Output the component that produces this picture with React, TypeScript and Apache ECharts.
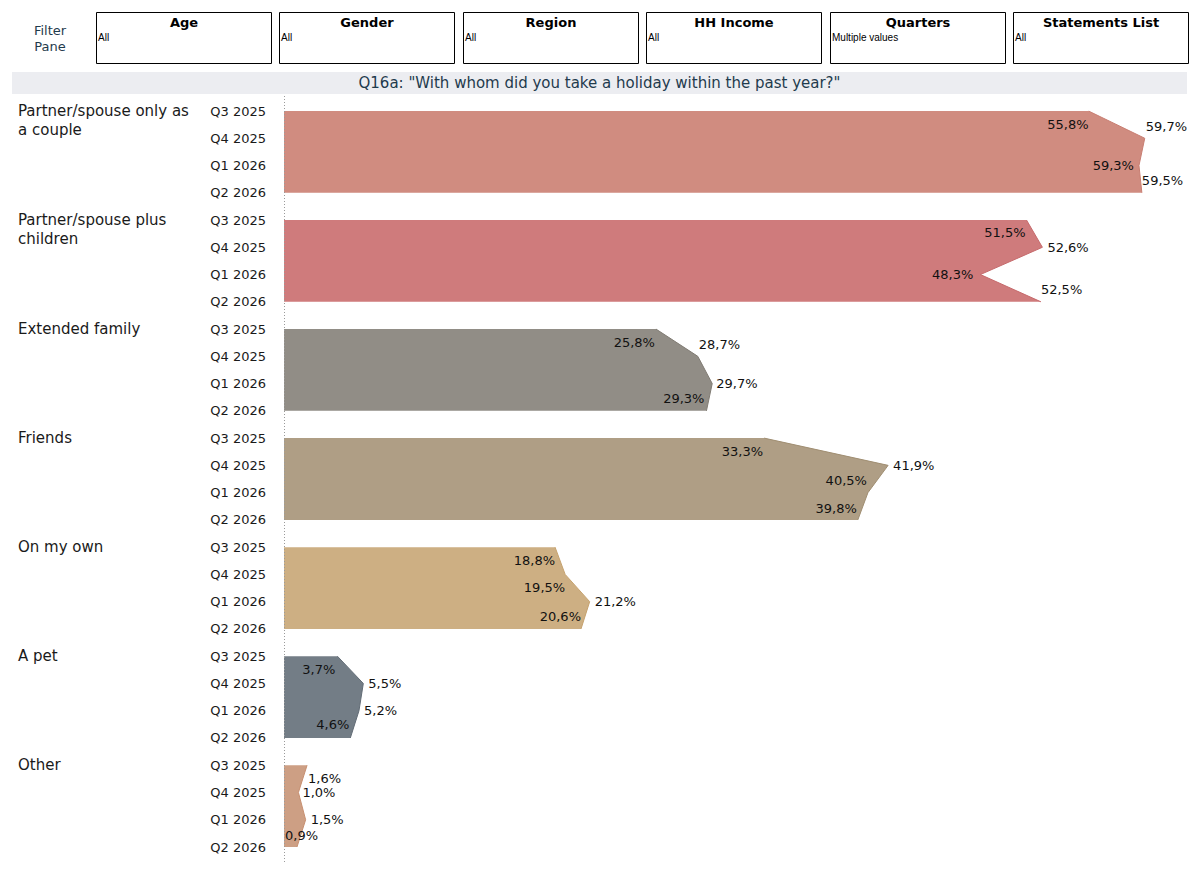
import React, { useEffect, useRef } from 'react';
import * as echarts from 'echarts';

const quarters = ['Q3 2025', 'Q4 2025', 'Q1 2026', 'Q2 2026'];
const groups = [
  'Partner/spouse only as a couple',
  'Partner/spouse plus children',
  'Extended family',
  'Friends',
  'On my own',
  'A pet',
  'Other',
];
const groupLabels = [
  'Partner/spouse only as\na couple',
  'Partner/spouse plus\nchildren',
  'Extended family',
  'Friends',
  'On my own',
  'A pet',
  'Other',
];
const partnerOnly = [55.8, 59.7, 59.3, 59.5];
const partnerChildren = [51.5, 52.6, 48.3, 52.5];
const extendedFamily = [25.8, 28.7, 29.7, 29.3];
const friends = [33.3, 41.9, 40.5, 39.8];
const onMyOwn = [18.8, 19.5, 21.2, 20.6];
const aPet = [3.7, 5.5, 5.2, 4.6];
const other = [1.6, 1.0, 1.5, 0.9];

const filterTitles = ['Age', 'Gender', 'Region', 'HH Income', 'Quarters', 'Statements List'];
const filterValues = ['All', 'All', 'All', 'All', 'Multiple values', 'All'];

const fills = ['#D08C80', '#CF7B7C', '#918D86', '#AF9E85', '#CDAF83', '#737D86', '#CD9F84'];
const strokes = ['#C87E72', '#C66A6C', '#817C74', '#A08E72', '#C6A26E', '#626C76', '#C78F70'];

// label placement per point: [side, gap, dy]
const labelLayout: [string, number, number][][] = [
  [['L', 0, 13], ['R', 1, -12], ['L', 5, 0], ['R', 0, -12]],
  [['L', 1, 12], ['R', 5, 0], ['L', 7, 0], ['R', 0, -12]],
  [['L', 1, 13], ['R', 1, -12], ['R', 4, 0], ['L', 2, -12]],
  [['L', 1, 13], ['R', 5, 0], ['L', 1, -12], ['L', 1, -11]],
  [['L', 0, 13], ['L', 0, 13], ['R', 5, 0], ['L', 0, -12]],
  [['L', 2, 13], ['R', 5, 0], ['R', 5, 0], ['L', 1, -13]],
  [['R', 1, 13], ['R', 4, 0], ['R', 5, 0], ['R', -12, -12]],
];

const FONT = 'DejaVu Sans';
const TEAL = '#1F3B4D';

export default function App() {
  const ref = useRef<HTMLDivElement>(null);
  useEffect(() => {
    if (!ref.current) return;
    const chart = echarts.init(ref.current, undefined, { renderer: 'svg' });
    const seriesValues = [partnerOnly, partnerChildren, extendedFamily, friends, onMyOwn, aPet, other];
    const rowIds: string[] = [];
    groups.forEach((g, gi) => quarters.forEach((q, qi) => rowIds.push(gi + '|' + qi)));

    const series = seriesValues.map((vals, g) => ({
      type: 'line',
      name: groups[g],
      xAxisIndex: 0,
      yAxisIndex: 0,
      symbol: 'circle',
      symbolSize: 0,
      connectNulls: false,
      lineStyle: { color: strokes[g], width: 1 },
      itemStyle: { color: strokes[g] },
      areaStyle: { color: fills[g], opacity: 1, origin: 'start' },
      emphasis: { disabled: true },
      label: {
        show: true,
        fontFamily: FONT,
        fontSize: 13,
        color: '#111',
        formatter: (p: any) => Number(p.value).toFixed(1).replace('.', ',') + '%',
      },
      data: rowIds.map((id, r) => {
        if (Math.floor(r / 4) !== g) return '-';
        const q = r % 4;
        const [side, gap, dy] = labelLayout[g][q];
        return {
          value: vals[q],
          label: {
            position: side === 'L' ? 'left' : 'right',
            distance: gap,
            offset: [0, dy],
          },
        };
      }),
    }));

    const graphics: any[] = [];
    graphics.push({
      type: 'text',
      x: 50,
      y: 38,
      style: {
        text: 'Filter\nPane',
        textAlign: 'center',
        textVerticalAlign: 'middle',
        fontFamily: FONT,
        fontSize: 13,
        lineHeight: 16,
        fill: TEAL,
      },
    });
    filterTitles.forEach((t, i) => {
      const x0 = 96 + i * 183.4;
      graphics.push({
        type: 'rect',
        shape: { x: Math.round(x0) + 0.5, y: 12.5, width: 175, height: 51 },
        style: { fill: '#fff', stroke: '#000', lineWidth: 1 },
      });
      graphics.push({
        type: 'text',
        x: Math.round(x0) + 88,
        y: 22,
        style: {
          text: t,
          textAlign: 'center',
          textVerticalAlign: 'middle',
          fontFamily: FONT,
          fontWeight: 'bold',
          fontSize: 13,
          fill: '#000',
        },
      });
      graphics.push({
        type: 'text',
        x: Math.round(x0) + 2,
        y: 37,
        style: {
          text: filterValues[i],
          textAlign: 'left',
          textVerticalAlign: 'middle',
          fontFamily: 'Liberation Sans',
          fontSize: 10,
          fill: '#000',
        },
      });
    });
    graphics.push({
      type: 'rect',
      shape: { x: 12, y: 72, width: 1175, height: 22 },
      style: { fill: '#ECEDF1' },
    });
    graphics.push({
      type: 'text',
      x: 599.5,
      y: 83,
      style: {
        text: 'Q16a: "With whom did you take a holiday within the past year?"',
        textAlign: 'center',
        textVerticalAlign: 'middle',
        fontFamily: FONT,
        fontSize: 15,
        fill: TEAL,
      },
    });
    graphics.push({
      type: 'line',
      z: 100,
      shape: { x1: 284.5, y1: 96, x2: 284.5, y2: 862 },
      style: { stroke: '#9A9A9A', lineWidth: 1, lineDash: [1, 2] },
    });

    chart.setOption({
      animation: false,
      backgroundColor: '#fff',
      grid: { left: 284, top: 111, width: 904, height: 736, outerBoundsMode: 'none' },
      xAxis: { type: 'value', min: 0, max: 62.7, show: false },
      yAxis: [
        {
          type: 'category',
          data: rowIds,
          inverse: true,
          boundaryGap: false,
          axisLine: { show: false },
          axisTick: { show: false },
          splitLine: { show: false },
          axisLabel: {
            interval: 0,
            margin: 18,
            fontFamily: FONT,
            fontSize: 13,
            color: '#1a1a1a',
            formatter: (_v: string, i: number) => quarters[i % 4],
          },
        },
        {
          type: 'category',
          data: rowIds,
          inverse: true,
          boundaryGap: false,
          position: 'left',
          offset: 0,
          axisLine: { show: false },
          axisTick: { show: false },
          splitLine: { show: false },
          axisLabel: {
            interval: 0,
            margin: 266,
            align: 'left',
            fontFamily: FONT,
            fontSize: 15,
            lineHeight: 19,
            color: '#1a1a1a',
            formatter: (_v: string, i: number) => {
              if (i % 4 !== 0) return '';
              const lbl = groupLabels[Math.floor(i / 4)];
              return lbl.indexOf('\n') >= 0 ? ' \n' + lbl : lbl;
            },
          },
        },
      ],
      graphic: graphics,
      series,
    });
    return () => chart.dispose();
  }, []);
  return (
    <div
      ref={ref}
      style={{ position: 'fixed', left: 0, top: 0, width: 1199, height: 872 }}
    />
  );
}
